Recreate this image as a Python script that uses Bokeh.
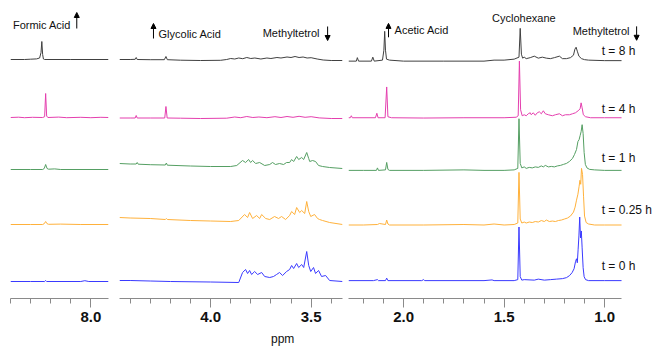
from bokeh.plotting import figure
from bokeh.layouts import row, column
from bokeh.models import Range1d, FixedTicker, Label, Arrow, NormalHead, NumeralTickFormatter, Div
from bokeh.embed import file_html
from bokeh.resources import INLINE

# ---------------- data (ppm, intensity) ----------------
TIME_LABELS = ["t = 8 h", "t = 4 h", "t = 1 h", "t = 0.25 h", "t = 0 h"]
COLORS = ["#404040", "#e43fae", "#559f63", "#ffb13b", "#3a3aff"]
OFFSETS = [239, 181, 129, 74, 18]   # vertical stacking of the traces

# panel 1: formic acid region
p1_8h = [(8.40, 1), (8.33, 1), (8.30, 1.3), (8.27, 1.6), (8.255, 2.5), (8.248, 8), (8.244, 19),
         (8.240, 6), (8.236, 1.5), (8.23, 1), (8.10, 1), (7.912, 1)]
p1_4h = [(8.40, 1), (8.36, 1.3), (8.33, 0.8), (8.29, 1.2), (8.24, 1), (8.23, 1.8), (8.225, 25),
         (8.220, 2.5), (8.214, 1), (8.16, 1.4), (8.12, 0.8), (8.05, 1.2), (8.00, 0.8), (7.95, 1.2), (7.912, 1)]
p1_1h = [(8.40, 1), (8.30, 1), (8.24, 1), (8.232, 2), (8.225, 6), (8.218, 2), (8.21, 1.3),
         (8.18, 1.6), (8.15, 1), (7.912, 1)]
p1_025h = [(8.40, 1), (8.30, 1), (8.24, 1), (8.232, 1.8), (8.225, 4), (8.218, 1.8), (8.21, 1.2),
           (8.15, 1.4), (8.05, 1), (7.912, 1)]
p1_0h = [(8.40, 0), (8.30, 0), (8.23, 0), (8.225, 1), (8.22, 0), (8.05, 0), (8.03, 0.8), (8.01, 0), (7.912, 0)]

# panel 2: glycolic acid / methyltetrol region
p2_8h = [(4.453, 1), (4.40, 1), (4.375, 1.2), (4.37, 3), (4.365, 1), (4.30, 0.8), (4.23, 0.8), (4.222, 4),
         (4.215, 0.8), (4.15, 0.3), (4.05, 0), (3.95, 0.2), (3.92, 1), (3.90, 2), (3.88, 1.5), (3.86, 2.5),
         (3.84, 1.8), (3.82, 3), (3.80, 2), (3.78, 2.5), (3.75, 1.5), (3.72, 2.5), (3.70, 2), (3.67, 3),
         (3.65, 2.5), (3.62, 3.5), (3.60, 3), (3.58, 4), (3.56, 3), (3.54, 3.5), (3.52, 2.5), (3.50, 2.8),
         (3.47, 1.5), (3.44, 0.5), (3.40, 0), (3.344, 0)]
p2_4h = [(4.453, 0.5), (4.40, 0.5), (4.375, 0.5), (4.37, 3), (4.365, 0.5), (4.30, 0.5), (4.228, 0.5),
         (4.222, 12), (4.216, 0.5), (4.15, 0.3), (4.05, 0), (3.92, 0.3), (3.88, 1.5), (3.85, 0.8), (3.82, 2),
         (3.79, 1), (3.76, 1.5), (3.72, 0.8), (3.68, 1.8), (3.65, 1), (3.62, 2), (3.59, 1.2), (3.56, 2.2),
         (3.53, 1.2), (3.50, 1.8), (3.46, 0.6), (3.40, 0), (3.344, 0)]
p2_1h = [(4.453, 7), (4.40, 6.5), (4.37, 6.5), (4.365, 8), (4.36, 6.3), (4.30, 5.8), (4.225, 5.5),
         (4.22, 7.5), (4.215, 5.3), (4.10, 4.5), (4.0, 4), (3.90, 4), (3.87, 5),
         (3.841, 10), (3.826, 8), (3.811, 11), (3.801, 8), (3.791, 10), (3.776, 7), (3.756, 8), (3.731, 5),
         (3.706, 6), (3.692, 8), (3.677, 6), (3.657, 7), (3.637, 6), (3.622, 8), (3.607, 8), (3.597, 11),
         (3.587, 9), (3.572, 14), (3.562, 11), (3.547, 13), (3.537, 11), (3.522, 18), (3.512, 12),
         (3.507, 9), (3.493, 10), (3.478, 9), (3.463, 5), (3.443, 4), (3.408, 3), (3.344, 2)]
p2_025h = [(4.453, 8), (4.40, 7.5), (4.30, 7), (4.225, 6), (4.22, 7), (4.215, 6), (4.10, 5), (4.0, 4.5),
           (3.90, 4), (3.86, 5),
           (3.831, 11), (3.816, 8), (3.806, 13), (3.791, 7), (3.771, 10), (3.756, 7), (3.746, 11), (3.726, 7),
           (3.706, 6), (3.682, 9), (3.662, 7), (3.647, 9), (3.627, 6), (3.607, 10), (3.597, 14), (3.582, 11),
           (3.572, 18), (3.557, 13), (3.547, 15), (3.532, 12), (3.522, 24), (3.512, 14), (3.502, 9),
           (3.483, 11), (3.468, 7), (3.458, 6), (3.443, 5), (3.408, 3), (3.344, 1)]
p2_0h = [(4.453, 1), (4.40, 1), (4.30, 0.5), (4.20, 0), (4.0, -0.5), (3.86, -1),
         (3.841, 9), (3.826, 12), (3.816, 8), (3.806, 11), (3.796, 7), (3.781, 10), (3.766, 7), (3.746, 9),
         (3.731, 5), (3.706, 4), (3.687, 5), (3.672, 7), (3.657, 9), (3.642, 6), (3.622, 10), (3.607, 12),
         (3.597, 16), (3.587, 13), (3.572, 18), (3.562, 14), (3.547, 17), (3.537, 14), (3.522, 30),
         (3.512, 16), (3.502, 10), (3.488, 14), (3.478, 8), (3.463, 11), (3.448, 5), (3.428, 6),
         (3.408, 1), (3.344, 0)]

# panel 3: acetic acid / cyclohexane / methyltetrol region
p3_8h = [(2.274, -1), (2.235, -1), (2.23, 2.5), (2.224, -1), (2.16, -1), (2.153, 3), (2.146, -1),
         (2.105, 0), (2.098, 10), (2.094, 29), (2.090, 10), (2.085, 1), (2.07, 0), (2.0, -1), (1.80, -1),
         (1.60, -1), (1.55, 0), (1.50, 0), (1.45, 1), (1.426, 3), (1.420, 32), (1.414, 6), (1.408, 2),
         (1.40, 3), (1.39, 1.5), (1.37, 2.5), (1.35, 4), (1.33, 2), (1.31, 3), (1.29, 2), (1.27, 1.5),
         (1.25, 2.5), (1.225, 4), (1.21, 1.5), (1.19, 1.5), (1.17, 2.5), (1.155, 5), (1.148, 11),
         (1.142, 13), (1.136, 9), (1.128, 4), (1.115, 1.5), (1.10, 0.5), (1.08, 0), (1.0, -0.5), (0.916, -0.5)]
p3_4h = [(2.274, 0), (2.265, 0), (2.26, 2), (2.255, 0), (2.14, 0), (2.133, 4.5), (2.127, 0), (2.092, 0),
         (2.084, 31), (2.078, 1), (2.06, 0), (1.90, -0.3), (1.70, 0), (1.50, 0), (1.44, 0.5), (1.43, 2),
         (1.424, 57), (1.418, 8), (1.41, 2), (1.40, 3), (1.39, 2), (1.38, 4), (1.37, 5), (1.365, 3),
         (1.355, 5), (1.345, 2.5), (1.335, 5), (1.325, 6), (1.315, 4), (1.305, 7), (1.295, 4), (1.28, 3),
         (1.26, 2), (1.245, 3), (1.225, 4), (1.21, 2), (1.195, 3), (1.175, 3), (1.16, 4), (1.145, 5),
         (1.132, 7), (1.122, 9), (1.117, 15), (1.112, 10), (1.106, 3), (1.095, 1), (1.07, 0), (1.0, 0), (0.916, 0)]
p3_1h = [(2.274, -1), (2.20, -1), (2.135, -1), (2.13, 1.5), (2.125, -1), (2.09, -0.5), (2.084, 7),
         (2.078, 0), (2.07, -1), (1.90, -1), (1.70, -0.5), (1.60, -1), (1.50, -1), (1.45, -0.5), (1.432, 1),
         (1.426, 51), (1.420, 6), (1.412, 1.5), (1.40, 2.5), (1.39, 1), (1.375, 2), (1.36, 1.5), (1.345, 2.5),
         (1.33, 2), (1.315, 3.5), (1.305, 2.5), (1.295, 4), (1.28, 2.5), (1.265, 3), (1.25, 2.5),
         (1.235, 3.5), (1.22, 4), (1.205, 5), (1.19, 6), (1.175, 8), (1.16, 11), (1.15, 15), (1.14, 20),
         (1.133, 28), (1.127, 30), (1.122, 34), (1.117, 38), (1.112, 45), (1.107, 36), (1.102, 17),
         (1.096, 5), (1.088, 1.5), (1.075, 0), (1.05, -0.5), (1.0, -1), (0.916, -1)]
p3_025h = [(2.274, -1), (2.20, -1), (2.13, -0.5), (2.12, 0.5), (2.09, -0.5), (2.084, 4), (2.078, 0),
           (2.07, -1), (1.90, -1), (1.70, -0.5), (1.60, -1), (1.55, 0), (1.50, -1), (1.45, -0.5), (1.432, 1),
           (1.426, 52), (1.420, 5), (1.412, 1), (1.40, 2), (1.39, 1), (1.375, 2), (1.36, 1.5), (1.345, 2.5),
           (1.33, 2), (1.315, 3.5), (1.30, 2.5), (1.29, 4), (1.275, 2.5), (1.26, 3), (1.245, 2.5),
           (1.23, 3.5), (1.215, 4), (1.20, 5), (1.185, 6), (1.17, 8), (1.155, 12), (1.147, 17), (1.14, 24),
           (1.133, 30), (1.127, 38), (1.123, 44), (1.119, 40), (1.115, 56), (1.110, 50), (1.105, 28),
           (1.100, 8), (1.092, 1.5), (1.08, 0), (1.05, -1), (1.0, -1), (0.916, -1)]
p3_0h = [(2.274, -1), (2.15, -1), (2.13, 0), (2.125, -1), (2.09, -1), (2.084, 1.5), (2.078, -1), (1.91, -1),
         (1.90, 0), (1.895, -1), (1.60, -1), (1.56, -0.3), (1.55, -1), (1.45, -1), (1.432, 0), (1.426, 53),
         (1.420, 3), (1.412, -0.5), (1.40, 0), (1.35, -0.5), (1.33, 0.5), (1.30, -0.5), (1.27, 0), (1.24, 0.5),
         (1.21, 1), (1.19, 2), (1.175, 4), (1.162, 7), (1.152, 11), (1.145, 18), (1.140, 21), (1.136, 17),
         (1.132, 30), (1.128, 44), (1.124, 63), (1.120, 42), (1.116, 49), (1.112, 32), (1.107, 12),
         (1.102, 3), (1.095, 0), (1.08, -1), (1.0, -1), (0.916, -1)]

PANEL1 = [p1_8h, p1_4h, p1_1h, p1_025h, p1_0h]
PANEL2 = [p2_8h, p2_4h, p2_1h, p2_025h, p2_0h]
PANEL3 = [p3_8h, p3_4h, p3_1h, p3_025h, p3_0h]

FONT = "Liberation Sans"
AXIS_GRAY = "#8a8a8a"
H = 338


def make_panel(width, xr, yr, bl, br, bb, majors, minors, bounds=None):
    p = figure(width=width, height=H, x_range=Range1d(*xr), y_range=Range1d(*yr),
               output_backend="svg", toolbar_location=None, y_axis_location=None,
               min_border_left=bl, min_border_right=br, min_border_top=7, min_border_bottom=bb,
               outline_line_color=None, background_fill_color="white", border_fill_color="white")
    p.grid.visible = False
    ax = p.xaxis[0]
    ax.ticker = FixedTicker(ticks=majors, minor_ticks=minors)
    ax.formatter = NumeralTickFormatter(format="0.0")
    if bounds is not None:
        ax.bounds = bounds
    ax.axis_line_color = AXIS_GRAY
    ax.major_tick_line_color = AXIS_GRAY
    ax.minor_tick_line_color = AXIS_GRAY
    ax.major_tick_in = 0
    ax.major_tick_out = 9
    ax.minor_tick_in = 0
    ax.minor_tick_out = 5
    ax.major_label_standoff = 4
    ax.major_label_text_font = FONT
    ax.major_label_text_font_style = "bold"
    ax.major_label_text_font_size = "15px"
    ax.major_label_text_color = "#111111"
    return p


def draw(p, traces):
    for pts, off, col in zip(traces, OFFSETS, COLORS):
        xs = [a for a, b in pts]
        ys = [b + off for a, b in pts]
        p.line(xs, ys, line_color=col, line_width=1)


def label(p, x, y, text, size="11px", align="left"):
    p.add_layout(Label(x=x, y=y, text=text, text_font=FONT, text_font_size=size,
                       text_baseline="middle", text_align=align, text_color="#111111"))


def arrow(p, x, y0, y1):
    p.add_layout(Arrow(end=NormalHead(size=5, fill_color="black", line_color="black"),
                       x_start=x, y_start=y0, x_end=x, y_end=y1, line_color="black", line_width=1))


p1 = make_panel(113, (8.40, 7.912), (1, 292), 10, 5, 40, [8.0], [8.4, 8.3, 8.2, 8.1])
p2 = make_panel(232, (4.453, 3.344), (1, 292), 6, 3, 40, [4.0, 3.5],
                [4.4, 4.3, 4.2, 4.1, 3.9, 3.8, 3.7, 3.6, 3.4])
p3 = make_panel(307, (2.274, 0.762), (-1, 292), 3, 0, 38, [2.0, 1.5, 1.0],
                [2.2, 2.1, 1.9, 1.8, 1.7, 1.6, 1.4, 1.3, 1.2, 1.1], bounds=(0.916, 2.274))

draw(p1, PANEL1)
draw(p2, PANEL2)
draw(p3, PANEL3)

label(p1, 8.388, 275, "Formic Acid")
arrow(p1, 8.07, 271, 287)
label(p2, 4.259, 266, "Glycolic Acid")
arrow(p2, 4.284, 261, 276)
label(p2, 3.741, 267, "Methyltetrol")
arrow(p2, 3.418, 273, 259)
label(p3, 2.045, 269, "Acetic Acid")
arrow(p3, 2.075, 262, 276)
label(p3, 1.56, 281, "Cyclohexane")
label(p3, 1.159, 268, "Methyltetrol")
arrow(p3, 0.841, 273, 259)
for t, yy in zip(TIME_LABELS, [248, 190, 140, 88, 32]):
    label(p3, 1.015, yy, t, size="12px")

ppm = Div(text="ppm", width=40, height=12, margin=(-6, 0, 0, 271),
          styles={"font-family": FONT, "font-size": "12px", "line-height": "14px", "color": "#111111"})

layout = column(row(p1, p2, p3, spacing=0), ppm, spacing=0)
open("out.html", "w").write(file_html(layout, INLINE))
